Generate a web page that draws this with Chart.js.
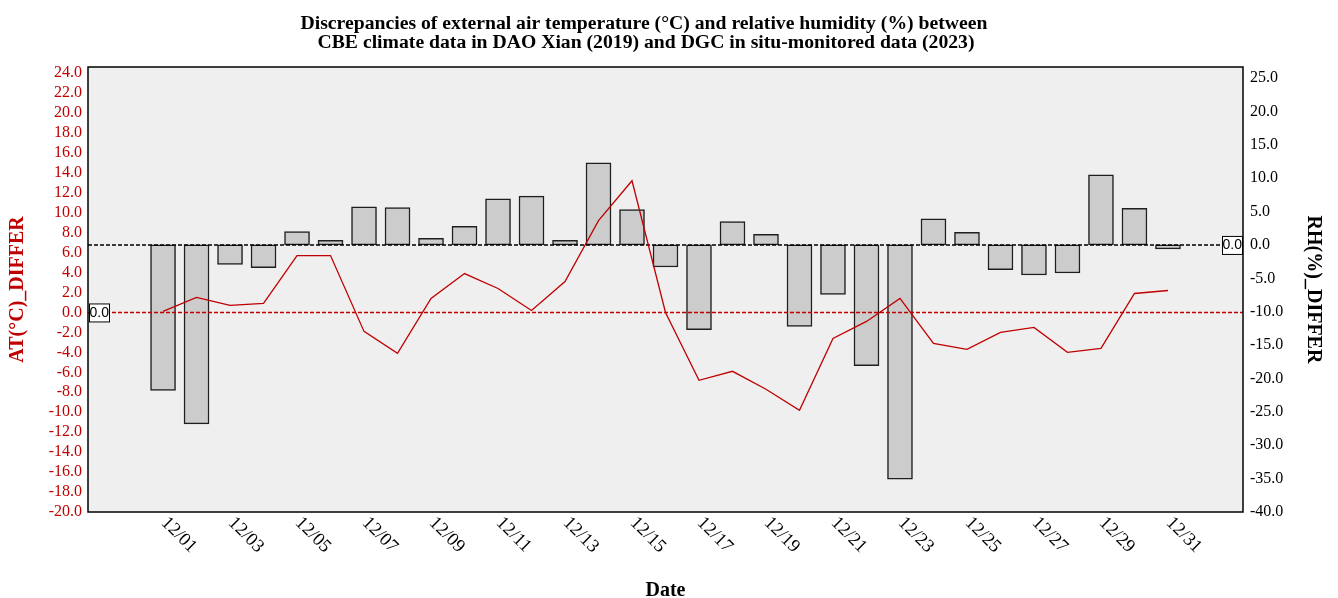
<!DOCTYPE html>
<html><head><meta charset="utf-8">
<script src="https://cdn.jsdelivr.net/npm/chart.js@4.4.1/dist/chart.umd.min.js"></script>
<style>html,body{margin:0;padding:0;background:#fff;}canvas{display:block}</style>
</head><body>
<canvas id="c" width="1338" height="598"></canvas>
<script>
const dates = ['12/01','12/02','12/03','12/04','12/05','12/06','12/07','12/08','12/09','12/10','12/11','12/12','12/13','12/14','12/15','12/16','12/17','12/18','12/19','12/20','12/21','12/22','12/23','12/24','12/25','12/26','12/27','12/28','12/29','12/30','12/31'];
const atDiffer = [0.1, 1.5, 0.7, 0.9, 5.7, 5.7, -1.9, -4.1, 1.4, 3.9, 2.4, 0.2, 3.1, 9.2, 13.2, 0.0, -6.8, -5.9, -7.7, -9.8, -2.6, -0.9, 1.4, -3.1, -3.7, -2.0, -1.5, -4.0, -3.6, 1.9, 2.2];
const rhDiffer = [-21.8, -26.8, -2.9, -3.4, 2.0, 0.7, 5.7, 5.6, 1.0, 2.8, 6.9, 7.3, 0.7, 12.3, 5.3, -3.3, -12.7, 3.5, 1.6, -12.2, -7.4, -18.1, -35.1, 3.9, 1.9, -3.7, -4.5, -4.2, 10.5, 5.5, -0.6];
const xTickLabels = ['12/01','12/03','12/05','12/07','12/09','12/11','12/13','12/15','12/17','12/19','12/21','12/23','12/25','12/27','12/29','12/31'];
const atTicks = [-20,-18,-16,-14,-12,-10,-8,-6,-4,-2,0,2,4,6,8,10,12,14,16,18,20,22,24];
const rhTicks = [-40,-35,-30,-25,-20,-15,-10,-5,0,5,10,15,20,25];
const titleLines = ['Discrepancies of external air temperature (\u00B0C) and relative humidity (%) between','CBE climate data in DAO Xian (2019) and DGC in situ-monitored data (2023)'];
const zeroLabel = '0.0';

const SERIF = "'Liberation Serif', 'Times New Roman', serif";
const RED = '#c00000';

const decor = {
  id: 'decor',
  beforeDraw(chart) {
    const {ctx, chartArea: a} = chart;
    ctx.save();
    ctx.fillStyle = '#ffffff';
    ctx.fillRect(0, 0, chart.width, chart.height);
    ctx.fillStyle = '#efefef';
    ctx.fillRect(a.left, a.top, a.right - a.left, a.bottom - a.top);
    ctx.restore();
  },
  afterDatasetDraw(chart, args) {
    if (args.index !== 0) return;
    const {ctx, chartArea: a, scales} = chart;
    ctx.save();
    ctx.lineWidth = 1.5;
    ctx.setLineDash([4, 2]);
    const yl = scales.yL.getPixelForValue(0);
    ctx.strokeStyle = RED;
    ctx.beginPath(); ctx.moveTo(a.left, yl); ctx.lineTo(a.right, yl); ctx.stroke();
    const yr = scales.yR.getPixelForValue(0);
    ctx.strokeStyle = '#000';
    ctx.beginPath(); ctx.moveTo(a.left, yr); ctx.lineTo(a.right, yr); ctx.stroke();
    ctx.restore();
  },
  afterDraw(chart) {
    const {ctx, chartArea: a, scales} = chart;
    ctx.save();
    const box = (x, yc) => {
      ctx.fillStyle = '#fff';
      ctx.fillRect(x, yc - 9, 20, 19);
      ctx.strokeStyle = '#000'; ctx.lineWidth = 1;
      ctx.strokeRect(x + 0.5, yc - 8.5, 20, 18);
      ctx.fillStyle = '#000';
      ctx.font = "14px 'Liberation Sans', Arial, sans-serif";
      ctx.textAlign = 'left'; ctx.textBaseline = 'middle';
      ctx.fillText(zeroLabel, x + 0.5, yc + 0.5);
    };
    box(a.left + 1, scales.yL.getPixelForValue(0));
    box(a.right - 21, scales.yR.getPixelForValue(0));
    ctx.strokeStyle = '#000'; ctx.lineWidth = 1.5;
    ctx.strokeRect(a.left, a.top, a.right - a.left, a.bottom - a.top);
    ctx.fillStyle = '#000';
    ctx.font = '18.5px ' + SERIF;
    ctx.textAlign = 'left'; ctx.textBaseline = 'middle';
    xTickLabels.forEach(lbl => {
      const px = scales.x.getPixelForValue(dates.indexOf(lbl));
      ctx.save();
      ctx.translate(px + 1, a.bottom + 8);
      ctx.rotate(Math.PI / 4);
      ctx.fillText(lbl, 0, 0);
      ctx.restore();
    });
    ctx.font = 'bold 19.7px ' + SERIF;
    ctx.textAlign = 'center'; ctx.textBaseline = 'alphabetic';
    ctx.fillText(titleLines[0], 644, 29);
    ctx.fillText(titleLines[1], 646, 48);
    ctx.restore();
  }
};

new Chart(document.getElementById('c'), {
  data: {
    datasets: [
      {
        type: 'bar',
        label: 'RH(%)_DIFFER',
        data: rhDiffer.map((v, i) => ({x: i, y: v})),
        xAxisID: 'x', yAxisID: 'yR',
        backgroundColor: '#cccccc',
        borderColor: '#1f1f1f',
        borderWidth: 1.5,
        borderSkipped: false,
        barThickness: 25,
        order: 2
      },
      {
        type: 'line',
        label: 'AT(\u00B0C)_DIFFER',
        data: atDiffer.map((v, i) => ({x: i, y: v})),
        xAxisID: 'x', yAxisID: 'yL',
        borderColor: RED,
        borderWidth: 1.3,
        pointRadius: 0,
        tension: 0,
        fill: false,
        order: 1
      }
    ]
  },
  options: {
    responsive: false,
    devicePixelRatio: 1,
    animation: false,
    layout: {padding: {top: 67, left: 0, right: 0, bottom: 0}},
    plugins: {legend: {display: false}, title: {display: false}, tooltip: {enabled: false}},
    scales: {
      x: {
        type: 'linear', position: 'bottom',
        min: -2.24, max: 32.24,
        offset: false,
        bounds: 'data',
        grid: {display: false, drawTicks: false, offset: false},
        border: {display: false},
        ticks: {display: false},
        title: {display: true, text: 'Date', color: '#000', font: {family: SERIF, size: 20, weight: 'bold', lineHeight: 1}, padding: {top: 0, bottom: -3}},
        afterFit: s => { s.height = 86; }
      },
      yL: {
        type: 'linear', position: 'left',
        min: -20, max: 24.6,
        afterBuildTicks: s => { s.ticks = atTicks.map(v => ({value: v})); },
        grid: {display: false, drawTicks: false},
        border: {display: false},
        ticks: {color: RED, font: {family: SERIF, size: 16}, padding: 6, autoSkip: false, callback: v => Number(v).toFixed(1)},
        title: {display: true, text: 'AT(\u00B0C)_DIFFER', color: RED, font: {family: SERIF, size: 20, weight: 'bold'}, padding: {top: 6, bottom: 0}},
        afterFit: s => { s.width = 88; }
      },
      yR: {
        type: 'linear', position: 'right',
        min: -40, max: 26.65,
        afterBuildTicks: s => { s.ticks = rhTicks.map(v => ({value: v})); },
        grid: {display: false, drawTicks: false},
        border: {display: false},
        ticks: {color: '#000', font: {family: SERIF, size: 16}, padding: 7, autoSkip: false, callback: v => Number(v).toFixed(1)},
        title: {display: true, text: 'RH(%)_DIFFER', color: '#000', font: {family: SERIF, size: 20, weight: 'bold'}, padding: {top: 13, bottom: 0}},
        afterFit: s => { s.width = 95; }
      }
    }
  },
  plugins: [decor]
});
</script>
</body></html>
